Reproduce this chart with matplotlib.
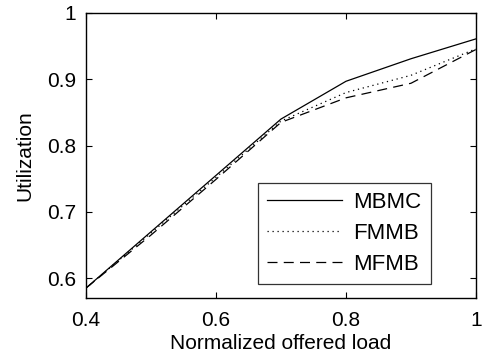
import matplotlib
matplotlib.use("Agg")
import matplotlib.pyplot as plt

plt.rcParams['font.family'] = ['Liberation Sans', 'DejaVu Sans']

# offered load vs utilization
load = [0.4, 0.5, 0.6, 0.7, 0.8, 0.9, 1.0]
mbmc = [0.585, 0.670, 0.755, 0.840, 0.897, 0.931, 0.961]
fmmb = [0.585, 0.668, 0.752, 0.837, 0.880, 0.906, 0.946]
mfmb = [0.585, 0.665, 0.749, 0.835, 0.872, 0.894, 0.945]

fig = plt.figure(figsize=(4.84, 3.6), dpi=100)
ax = fig.add_axes([86 / 484, 1 - 298 / 360, (476 - 86) / 484, (298 - 13) / 360])

ax.plot(load, mbmc, color='black', lw=0.9, ls='-', label='MBMC')
ax.plot(load, fmmb, color='black', lw=0.9, ls=(0, (1, 3)), label='FMMB')
ax.plot(load, mfmb, color='black', lw=0.9, ls=(0, (8, 5)), label='MFMB')

ax.set_xlim(0.4, 1.0)
ax.set_ylim(0.57, 1.0)
ax.set_xticks([0.4, 0.6, 0.8, 1.0])
ax.set_xticklabels(['0.4', '0.6', '0.8', '1'])
ax.set_yticks([0.6, 0.7, 0.8, 0.9, 1.0])
ax.set_yticklabels(['0.6', '0.7', '0.8', '0.9', '1'])
ax.tick_params(direction='in', top=True, right=True, length=4, width=0.8,
               labelsize=15)
ax.tick_params(axis='x', pad=9.5)
ax.tick_params(axis='y', pad=7)
for s in ax.spines.values():
    s.set_linewidth(1.0)

ax.set_xlabel('Normalized offered load', fontsize=15, labelpad=3)
ax.set_ylabel('Utilization', fontsize=15, labelpad=9)

leg = ax.legend(loc='lower right', bbox_to_anchor=(0.912, 0.01), fontsize=16,
                frameon=True, fancybox=False, edgecolor='black',
                handlelength=3.4, handletextpad=0.5, borderpad=0.4,
                labelspacing=0.45)
leg.get_frame().set_linewidth(0.9)

fig.savefig('out.png', dpi=100)
